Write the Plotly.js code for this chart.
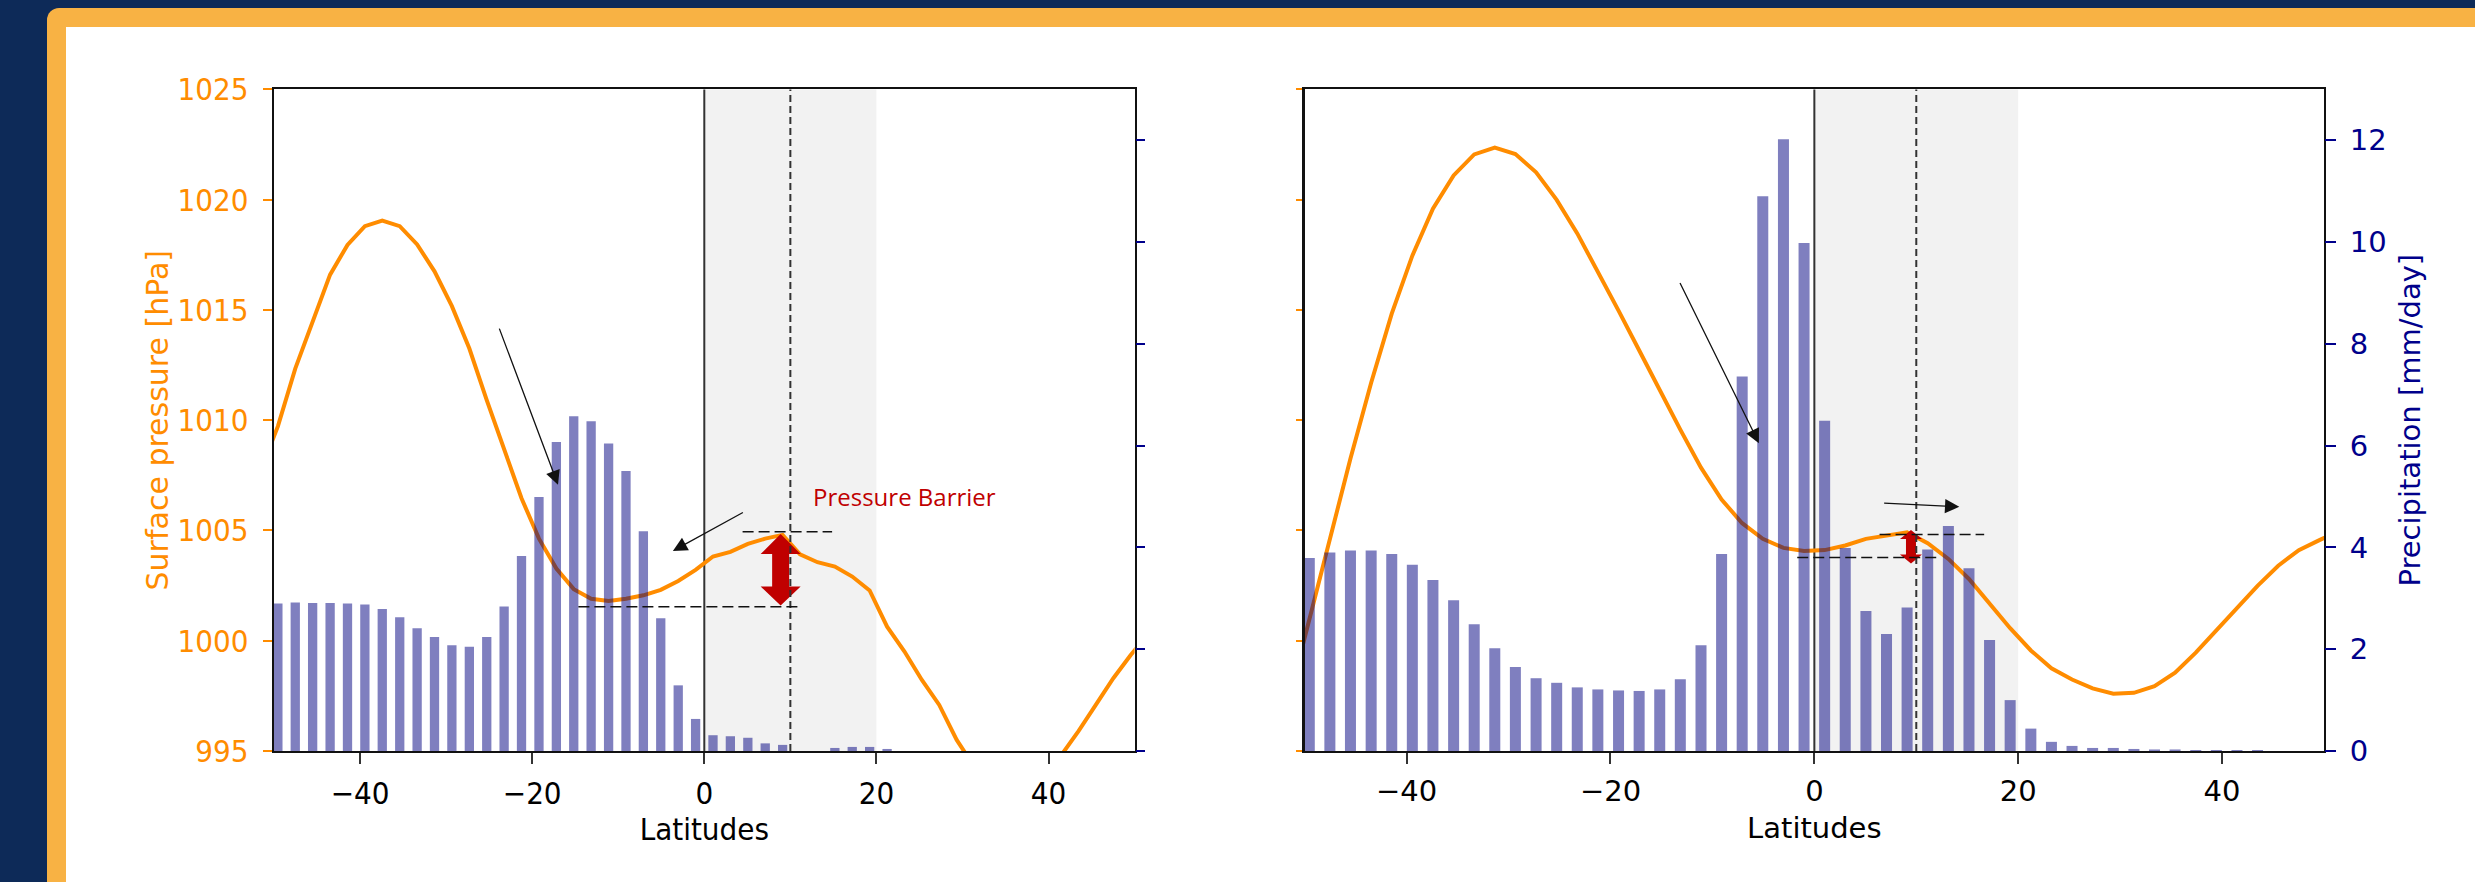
<!DOCTYPE html>
<html>
<head>
<meta charset="utf-8">
<script src="https://cdn.plot.ly/plotly-3.0.1.min.js"></script>
<style>
  html, body { margin: 0; padding: 0; }
  body { width: 2475px; height: 882px; overflow: hidden; position: relative; background: #0d2a58; }
  #frame { position: absolute; left: 47px; top: 8px; right: 0; bottom: 0; background: #f8b244; border-top-left-radius: 12px; }
  #inner { position: absolute; left: 66px; top: 27px; right: 0; bottom: 0; background: #ffffff; }
  #plot { position: absolute; left: 0; top: 0; width: 2475px; height: 882px; }
</style>
</head>
<body>
<div id="frame"></div>
<div id="inner"></div>
<div id="plot"></div>
<script>
// ---- Data ----
// latitudes of the pressure curve (grid points, including the ones just outside the axis range)
const latLine = [-51.57, -49.55, -47.53, -45.51, -43.48, -41.46, -39.44, -37.42, -35.39, -33.37,
  -31.35, -29.33, -27.30, -25.28, -23.26, -21.24, -19.21, -17.19, -15.17, -13.15,
  -11.12, -9.10, -7.08, -5.06, -3.03, -1.01, 1.01, 3.03, 5.06, 7.08,
  9.10, 11.12, 13.15, 15.17, 17.19, 19.21, 21.24, 23.26, 25.28, 27.30,
  29.33, 31.35, 33.37, 35.39, 37.42, 39.44, 41.46, 43.48, 45.51, 47.53,
  49.55, 51.57];

// latitudes of the precipitation bars
const latBars = [-49.55, -47.53, -45.51, -43.48, -41.46, -39.44, -37.42, -35.39, -33.37, -31.35,
  -29.33, -27.30, -25.28, -23.26, -21.24, -19.21, -17.19, -15.17, -13.15, -11.12,
  -9.10, -7.08, -5.06, -3.03, -1.01, 1.01, 3.03, 5.06, 7.08, 9.10,
  11.12, 13.15, 15.17, 17.19, 19.21, 21.24, 23.26, 25.28, 27.30, 29.33,
  31.35, 33.37, 35.39, 37.42, 39.44, 41.46, 43.48, 45.51, 47.53, 49.55];

// Left panel: surface pressure [hPa]
const pressureLeft = [1007.7, 1009.72, 1012.34, 1014.5, 1016.6, 1017.95, 1018.8, 1019.05, 1018.8, 1017.97,
  1016.75, 1015.17, 1013.25, 1010.91, 1008.69, 1006.46, 1004.63, 1003.27, 1002.34, 1001.9,
  1001.8, 1001.9, 1002.06, 1002.31, 1002.71, 1003.21, 1003.82, 1004.03, 1004.39, 1004.63,
  1004.8, 1003.92, 1003.56, 1003.36, 1002.91, 1002.28, 1000.64, 999.51, 998.22, 997.09,
  995.5, 994.3, 993.4, 993.0, 993.1, 993.7, 994.8, 995.9, 997.1, 998.3,
  999.35, 1000.3];

// Left panel: precipitation [mm/day]
const precipLeft = [2.90, 2.92, 2.91, 2.91, 2.90, 2.88, 2.79, 2.63, 2.41, 2.24,
  2.08, 2.05, 2.24, 2.84, 3.83, 4.99, 6.07, 6.58, 6.48, 6.04,
  5.50, 4.32, 2.61, 1.29, 0.63, 0.31, 0.29, 0.26, 0.15, 0.12,
  0, 0, 0.06, 0.08, 0.08, 0.04, 0, 0, 0, 0,
  0, 0, 0, 0, 0, 0, 0, 0, 0, 0];

// Right panel: surface pressure [hPa]
const pressureRight = [997.3, 1000.98, 1004.62, 1008.26, 1011.7, 1014.83, 1017.46, 1019.59, 1021.1, 1022.05,
  1022.36, 1022.07, 1021.24, 1019.99, 1018.47, 1016.75, 1014.97, 1013.17, 1011.35, 1009.57,
  1007.85, 1006.4, 1005.33, 1004.62, 1004.21, 1004.07, 1004.11, 1004.32, 1004.62, 1004.78,
  1004.92, 1004.42, 1003.71, 1002.8, 1001.68, 1000.57, 999.56, 998.75, 998.24, 997.84,
  997.6, 997.64, 997.94, 998.55, 999.46, 1000.47, 1001.48, 1002.49, 1003.4, 1004.11,
  1004.56, 1005.0];

// Right panel: precipitation [mm/day]
const precipRight = [3.79, 3.90, 3.94, 3.94, 3.87, 3.66, 3.36, 2.96, 2.49, 2.02,
  1.65, 1.43, 1.34, 1.25, 1.21, 1.19, 1.18, 1.21, 1.41, 2.08,
  3.87, 7.36, 10.9, 12.02, 9.98, 6.49, 3.99, 2.75, 2.30, 2.82,
  3.96, 4.42, 3.59, 2.18, 1.00, 0.44, 0.18, 0.10, 0.06, 0.06,
  0.04, 0.03, 0.03, 0.02, 0.02, 0.02, 0.02, 0, 0, 0];

const xTickVals = [-40, -20, 0, 20, 40];
const pressureTicks = [995, 1000, 1005, 1010, 1015, 1020, 1025];
const precipTicks = [0, 2, 4, 6, 8, 10, 12];

// Annotation levels
const leftBarrier = { lat: 8.87, top: 1004.84, bottom: 1001.6, upper: 1004.94, lower: 1001.54 };
const rightBarrier = { lat: 9.48, top: 1005.02, bottom: 1003.5, upper: 1004.82, lower: 1003.77 };

// ---- Styles ----
const ORANGE = '#ff8c00';
const NAVY = '#00008b';
const BAR = 'rgba(0,0,128,0.5)';
const FONT_L = 'DejaVu Sans Condensed, DejaVu Sans, sans-serif';
const FONT_R = 'DejaVu Sans, sans-serif';
const W = 2475, H = 882;
const px = (a, b) => [a / W, b / W];
const py = (top, bottom) => [(H - bottom) / H, (H - top) / H];

const traces = [
  { type: 'scatter', mode: 'lines', x: latLine, y: pressureLeft, xaxis: 'x', yaxis: 'y',
    line: { color: ORANGE, width: 4 }, hoverinfo: 'skip' },
  { type: 'bar', x: latBars, y: precipLeft, xaxis: 'x', yaxis: 'y2', width: 1.08,
    marker: { color: BAR, line: { width: 0 } }, hoverinfo: 'skip' },
  { type: 'scatter', mode: 'lines', x: latLine, y: pressureRight, xaxis: 'x2', yaxis: 'y3',
    line: { color: ORANGE, width: 4 }, hoverinfo: 'skip' },
  { type: 'bar', x: latBars, y: precipRight, xaxis: 'x2', yaxis: 'y4', width: 1.08,
    marker: { color: BAR, line: { width: 0 } }, hoverinfo: 'skip' }
];

function doubleArrow(xref, yref, b, halfHead, halfShaft, headLenData1, headLenData2) {
  const h1 = b.top - headLenData1, h2 = b.bottom + headLenData2;
  return {
    type: 'path', xref: xref, yref: yref, xsizemode: 'pixel', xanchor: b.lat,
    path: `M0,${b.top} L${halfHead},${h1} L${halfShaft},${h1} L${halfShaft},${h2} L${halfHead},${h2} ` +
          `L0,${b.bottom} L${-halfHead},${h2} L${-halfShaft},${h2} L${-halfShaft},${h1} L${-halfHead},${h1} Z`,
    fillcolor: '#c00000', line: { width: 0 }, layer: 'above'
  };
}

function panelShapes(xref, yref, b, arrowDims) {
  return [
    { type: 'rect', xref: xref, yref: yref + ' domain', x0: 0, x1: 20, y0: 0, y1: 1,
      fillcolor: '#f2f2f2', line: { width: 0 }, layer: 'below' },
    { type: 'line', xref: xref, yref: yref + ' domain', x0: 0, x1: 0, y0: 0, y1: 1,
      line: { color: '#333333', width: 2 }, layer: 'below' },
    doubleArrow(xref, yref, b, arrowDims[0], arrowDims[1], arrowDims[2], arrowDims[3]),
    { type: 'line', xref: xref, yref: yref + ' domain', x0: 10, x1: 10, y0: 0, y1: 1,
      line: { color: '#333333', width: 2, dash: '7px,4px' }, layer: 'above' },
    { type: 'line', xref: xref, yref: yref, x0: b.upperX0, x1: b.upperX1, y0: b.upper, y1: b.upper,
      line: { color: '#111111', width: 1.5, dash: '11px,5px' }, layer: 'above' },
    { type: 'line', xref: xref, yref: yref, x0: b.lowerX0, x1: b.lowerX1, y0: b.lower, y1: b.lower,
      line: { color: '#111111', width: 1.5, dash: '11px,5px' }, layer: 'above' }
  ];
}

leftBarrier.upperX0 = 4.45; leftBarrier.upperX1 = 14.85;
leftBarrier.lowerX0 = -14.63; leftBarrier.lowerX1 = 11.25;
rightBarrier.upperX0 = 6.4; rightBarrier.upperX1 = 16.66;
rightBarrier.lowerX0 = -1.68; rightBarrier.lowerX1 = 12.0;

const shapes = [].concat(
  panelShapes('x', 'y', leftBarrier, [20, 8.5, 0.91, 0.86]),
  panelShapes('x2', 'y3', rightBarrier, [11, 5, 0.41, 0.41])
);

function blackArrow(xref, yref, tail, tip) {
  return { xref: xref, yref: yref, axref: xref, ayref: yref,
    x: tip[0], y: tip[1], ax: tail[0], ay: tail[1], text: '', showarrow: true,
    arrowhead: 2, arrowsize: 2.2, arrowwidth: 1.3, arrowcolor: '#111111', standoff: 0 };
}

const annotations = [
  blackArrow('x', 'y', [-23.88, 1014.22], [-17.0, 1007.07]),
  blackArrow('x', 'y', [4.66, 1005.85], [-3.65, 1004.07]),
  blackArrow('x2', 'y3', [-13.25, 1016.29], [-5.44, 1008.96]),
  blackArrow('x2', 'y3', [6.70, 1006.24], [14.22, 1006.07]),
  { xref: 'x', yref: 'y', x: 12.34, y: 1006.53, xanchor: 'left', yanchor: 'middle',
    text: 'Pressure Barrier', showarrow: false,
    font: { family: 'Open Sans, Noto Sans, sans-serif', size: 24, color: '#c00000' } }
];

const spine = { showline: true, linecolor: '#111111', linewidth: 2.4, mirror: true };

const layout = {
  width: W, height: H,
  margin: { l: 0, r: 0, t: 0, b: 0, pad: 0 },
  paper_bgcolor: 'rgba(0,0,0,0)', plot_bgcolor: '#ffffff',
  showlegend: false, barmode: 'overlay',
  xaxis: Object.assign({ domain: px(274, 1134.6), anchor: 'y', range: [-50, 50],
    tickvals: xTickVals, ticks: 'outside', ticklen: 11, tickwidth: 2, tickcolor: '#333333',
    ticklabelstandoff: 2,
    tickfont: { family: FONT_L, size: 31, color: '#000000' },
    showgrid: false, zeroline: false,
    title: { text: 'Latitudes', font: { family: FONT_L, size: 31, color: '#000000' }, standoff: 6 }
  }, spine),
  yaxis: Object.assign({ domain: py(89.4, 751), anchor: 'x', range: [995, 1025],
    tickvals: pressureTicks, ticks: 'outside', ticklen: 9, tickwidth: 2, tickcolor: ORANGE,
    ticklabelstandoff: 8,
    tickfont: { family: FONT_L, size: 31, color: ORANGE },
    showgrid: false, zeroline: false,
    title: { text: 'Surface pressure [hPa]', font: { family: FONT_R, size: 30, color: ORANGE }, standoff: 0 }
  }, spine),
  yaxis2: { overlaying: 'y', side: 'right', anchor: 'x', range: [0, 13],
    tickvals: precipTicks, ticks: 'outside', ticklen: 9, tickwidth: 2, tickcolor: NAVY,
    showticklabels: false, showgrid: false, zeroline: false, showline: false },
  xaxis2: Object.assign({ domain: px(1304.7, 2324), anchor: 'y3', range: [-50, 50],
    tickvals: xTickVals, ticks: 'outside', ticklen: 11, tickwidth: 2, tickcolor: '#333333',
    ticklabelstandoff: 2,
    tickfont: { family: FONT_R, size: 29, color: '#000000' },
    showgrid: false, zeroline: false,
    title: { text: 'Latitudes', font: { family: FONT_R, size: 29, color: '#000000' }, standoff: 11 }
  }, spine),
  yaxis3: Object.assign({ domain: py(89.4, 751), anchor: 'x2', range: [995, 1025],
    tickvals: pressureTicks, ticks: 'outside', ticklen: 6, tickwidth: 2, tickcolor: ORANGE,
    showticklabels: false, showgrid: false, zeroline: false
  }, spine),
  yaxis4: { overlaying: 'y3', side: 'right', anchor: 'x2', range: [0, 13],
    tickvals: precipTicks, ticks: 'outside', ticklen: 11, tickwidth: 2, tickcolor: NAVY,
    ticklabelstandoff: 8,
    tickfont: { family: FONT_R, size: 29, color: NAVY },
    showgrid: false, zeroline: false, showline: false,
    title: { text: 'Precipitation [mm/day]', font: { family: FONT_R, size: 29, color: NAVY }, standoff: 14 } },
  shapes: shapes,
  annotations: annotations
};

Plotly.newPlot('plot', traces, layout, { staticPlot: true, displayModeBar: false });
</script>
</body>
</html>
